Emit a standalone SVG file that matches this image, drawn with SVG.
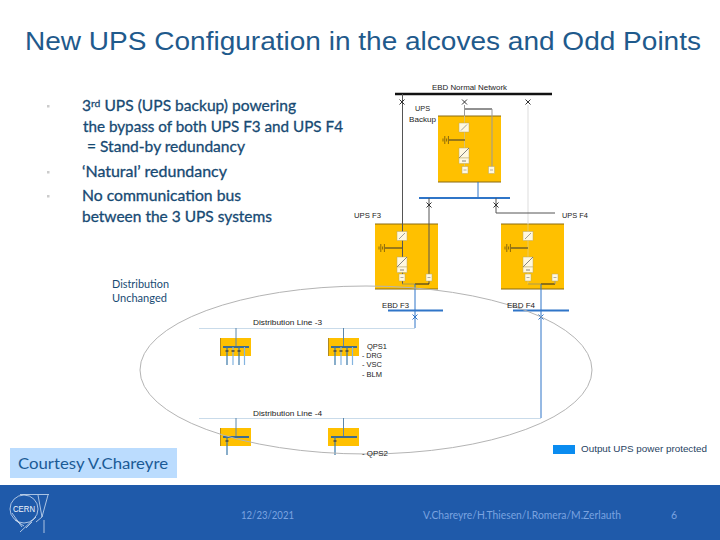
<svg xmlns="http://www.w3.org/2000/svg" width="720" height="540" viewBox="0 0 720 540">
<style>
.d{font-family:"Liberation Sans",Arial,sans-serif;font-size:8px;fill:#222}
.b{font-family:Lato,"Open Sans",sans-serif;font-size:15px;fill:#174a73;stroke:#174a73;stroke-width:.3}
.f{font-family:Lato,"Open Sans",sans-serif;font-size:10.5px;fill:#7aa3e0}
.y{fill:#ffc000}
.edge{stroke:#8a6a10;stroke-width:1;fill:none}
.w{fill:#fff8e0;stroke:#b9a76a;stroke-width:.5}
.s{fill:none;stroke-width:1}
.k{stroke:#222}
.gr{stroke:#999}
.bl{stroke:#2f75c8}
.blb{stroke:#2f75c8;stroke-width:2}
.pb{stroke:#c9dbea}
.x{stroke:#333;stroke-width:1;fill:none}
.st{stroke:#5a86ad;stroke-width:1;fill:none}
.bar{stroke:#3f6c8f;stroke-width:2;fill:none}
.l1{stroke:#3a78a8;stroke-width:1.2;fill:none}
.l2{stroke:#84b4e0;stroke-width:1.2;fill:none}
.logo{fill:none;stroke:#e8f0fb;stroke-width:.7}
</style>
<defs>
<path id="xm" d="M-2.5-2.5L2.5 2.5M2.5-2.5L-2.5 2.5"/>
<g id="sw"><rect class="w" x="-5" y="-4.5" width="10" height="9"/><path d="M-3 3L3-3" stroke="#888" stroke-width=".8"/></g>
<g id="sm"><rect class="w" x="-3" y="-3.5" width="6" height="7"/><path d="M-1.500 0L1.500 0" stroke="#999" stroke-width=".8"/></g>
<g id="inv"><rect class="w" x="-5" y="-5" width="10" height="10"/><path d="M-5 5L5-5" stroke="#666" stroke-width=".8"/><rect class="w" x="-5" y="5" width="10" height="5.500"/><path d="M-2 8L2 8" stroke="#666" stroke-width=".8"/></g>
<path id="bat" d="M0-1.500V1.500M1.800-4V4M3.600-1.500V1.500M5.400-4V4" stroke="#5a4510" stroke-width=".7" fill="none"/>
</defs>

<rect width="720" height="540" fill="#fff"/>
<text x="25" y="50" font-family="'Liberation Sans',Arial,sans-serif" font-size="26.500" fill="#1f5a8c" textLength="676" lengthAdjust="spacingAndGlyphs">New UPS Configuration in the alcoves and Odd Points</text>

<g id="bullets">
<rect x="47" y="105" width="2.500" height="2.500" fill="#ccc"/>
<rect x="47" y="171" width="2.500" height="2.500" fill="#ccc"/>
<rect x="47" y="195" width="2.500" height="2.500" fill="#ccc"/>
<text class="b" x="82" y="111" textLength="214" lengthAdjust="spacingAndGlyphs">3<tspan font-size="10" dy="-4.500">rd</tspan><tspan dy="4.500"> UPS (UPS backup) powering</tspan></text>
<text class="b" x="83" y="132" textLength="260" lengthAdjust="spacingAndGlyphs">the bypass of both UPS F3 and UPS F4</text>
<text class="b" x="87" y="152" textLength="158" lengthAdjust="spacingAndGlyphs">= Stand-by redundancy</text>
<text class="b" x="82" y="177" textLength="145" lengthAdjust="spacingAndGlyphs">‘Natural’ redundancy</text>
<text class="b" x="82" y="201" textLength="159" lengthAdjust="spacingAndGlyphs">No communication bus</text>
<text class="b" x="82" y="222" textLength="190" lengthAdjust="spacingAndGlyphs">between the 3 UPS systems</text>
</g>

<g id="note">
<text x="112" y="288" font-family="Lato,'Open Sans',sans-serif" font-size="11.500" fill="#174a73" textLength="57" lengthAdjust="spacingAndGlyphs">Distribution</text>
<text x="112" y="302" font-family="Lato,'Open Sans',sans-serif" font-size="11.500" fill="#174a73" textLength="55" lengthAdjust="spacingAndGlyphs">Unchanged</text>
</g>

<g id="ups-backup"><rect class="y" x="438" y="116" width="63" height="66"/><path class="edge" d="M438 116H501M438 182H501"/></g>
<g id="ups-f3"><rect class="y" x="375" y="224" width="63" height="65"/><path class="edge" d="M375 224H438M375 289H438"/></g>
<g id="ups-f4"><rect class="y" x="501" y="224" width="63" height="65"/><path class="edge" d="M501 224H564M501 289H564"/></g>
<g id="dist-3a"><rect class="y" x="220" y="338" width="31" height="18"/><path d="M220.500 338V356" stroke="#b08a20"/></g>
<g id="dist-3b"><rect class="y" x="328" y="338" width="31" height="18"/><path d="M328.500 338V356" stroke="#b08a20"/></g>
<g id="dist-4a"><rect class="y" x="220" y="428" width="31" height="18"/><path d="M220.500 428V446" stroke="#b08a20"/></g>
<g id="dist-4b"><rect class="y" x="328" y="428" width="31" height="18"/></g>

<g id="connectors">
<path d="M395 94H552" stroke="#111" stroke-width="2.500" fill="none"/>
<path class="s" d="M402.500 94V284" stroke="#555" stroke-width="1.500"/>
<path class="s gr" d="M464.500 105V116"/>
<path class="s" stroke="#d8c070" d="M464.500 116V166"/>
<path class="s k" d="M465 109H492"/>
<path class="s gr" d="M492 109V168"/>
<path class="s" stroke="#ddd" d="M528 105V224"/>
<path class="s" stroke="#e8c860" d="M528 224V284"/>
<path class="s bl" stroke-width="1.500" d="M478 182V198"/>
<path class="blb" fill="none" d="M419 198H510"/>
<path class="s" stroke="#555" stroke-width="1.200" d="M429 198V284"/>
<path class="s" stroke="#555" stroke-width="1.200" d="M496 198V213H555"/>
<path class="s" stroke="#333" d="M449 140H465M385 248H402M511 248H528"/>
<path class="s" stroke="#aa9a50" d="M402 284H415M528 284H541"/>
<path class="s k" d="M415 284H429M541 284H555"/>
<path class="s gr" d="M555 278V284"/>
<path class="s bl" d="M415 284V328M541 284V418"/>
<path class="blb" fill="none" d="M388 310.500H443M513 310.500H569"/>
<path class="s pb" d="M199 328.500H415M199 418.500H541"/>
<path class="st" d="M236 328V347M343.500 328V347M236 418V437M343.500 418V437"/>
<path class="bar" d="M223 347H249M331 347H357M223 437H249M331 437H357"/>
<path class="l1" d="M227 347V365M239 347V365M335 347V365M347 347V365M227 437V455M335 437V455"/>
<path class="l2" d="M233 347V365M244.500 347V365M341 347V365M352.500 347V365"/>
<path d="M225.500 351H228.500M231.500 351H234.500M237.500 351H240.500M333.500 351H336.500M339.500 351H342.500M345.500 351H348.500M225.500 441H228.500M333.500 441H336.500" stroke="#444" stroke-width="1.500"/>
<g class="x">
<use href="#xm" x="402" y="102"/><use href="#xm" x="464.500" y="102"/><use href="#xm" x="528" y="102"/>
<use href="#xm" x="429" y="205"/><use href="#xm" x="496" y="205"/>
</g>
<g stroke="#2f75c8" fill="none"><use href="#xm" x="415" y="317"/><use href="#xm" x="541" y="317"/></g>
</g>

<g id="ups-backup-parts">
<use href="#sw" x="464" y="127.500"/><use href="#inv" x="464" y="153"/><use href="#sm" x="465" y="170"/><use href="#sm" x="491.500" y="170"/><use href="#bat" x="443" y="140"/>
</g>
<g id="ups-f3-parts">
<use href="#sw" x="402" y="236"/><use href="#inv" x="402" y="262"/><use href="#sm" x="402" y="277.500"/><use href="#sm" x="429" y="277.500"/><use href="#bat" x="379" y="248"/>
</g>
<g id="ups-f4-parts">
<use href="#sw" x="528" y="236"/><use href="#inv" x="528" y="262"/><use href="#sm" x="528" y="277.500"/><use href="#sm" x="555" y="277.500"/><use href="#bat" x="505" y="248"/>
</g>

<ellipse id="boundary" cx="366" cy="370" rx="226" ry="84" fill="none" stroke="#b4b4b4" stroke-width="1"/>

<g id="diagram-labels">
<text class="d" x="432" y="90" textLength="75" lengthAdjust="spacingAndGlyphs">EBD Normal Network</text>
<text class="d" x="415" y="111" textLength="15" lengthAdjust="spacingAndGlyphs">UPS</text>
<text class="d" x="409" y="122" textLength="27" lengthAdjust="spacingAndGlyphs">Backup</text>
<text class="d" x="354" y="218" textLength="27" lengthAdjust="spacingAndGlyphs">UPS F3</text>
<text class="d" x="562" y="218" textLength="26" lengthAdjust="spacingAndGlyphs">UPS F4</text>
<text class="d" x="382" y="308" textLength="27" lengthAdjust="spacingAndGlyphs">EBD F3</text>
<text class="d" x="507" y="308" textLength="28" lengthAdjust="spacingAndGlyphs">EBD F4</text>
<text class="d" x="253" y="325" textLength="69" lengthAdjust="spacingAndGlyphs">Distribution Line -3</text>
<text class="d" x="253" y="416" textLength="69" lengthAdjust="spacingAndGlyphs">Distribution Line -4</text>
<text class="d" x="367" y="349" textLength="20" lengthAdjust="spacingAndGlyphs">QPS1</text>
<text class="d" x="362" y="358" textLength="20" lengthAdjust="spacingAndGlyphs">- DRG</text>
<text class="d" x="362" y="367" textLength="20" lengthAdjust="spacingAndGlyphs">- VSC</text>
<text class="d" x="362" y="377" textLength="20" lengthAdjust="spacingAndGlyphs">- BLM</text>
<text class="d" x="362" y="456" textLength="26" lengthAdjust="spacingAndGlyphs">- QPS2</text>
</g>

<g id="legend">
<rect x="553" y="445" width="22" height="9" fill="#0a8cf0"/>
<text x="581" y="452" font-family="'Liberation Sans',Arial,sans-serif" font-size="9" fill="#1f3f5f" textLength="126" lengthAdjust="spacingAndGlyphs">Output UPS power protected</text>
</g>

<g id="courtesy">
<rect x="10" y="448" width="167" height="30" fill="#bbdcfe"/>
<text x="18" y="469" font-family="Lato,'Open Sans',sans-serif" font-size="15.500" fill="#1a5a96" textLength="150" lengthAdjust="spacingAndGlyphs">Courtesy V.Chareyre</text>
</g>

<g id="footer">
<rect y="485" width="720" height="55" fill="#1f5aaa"/>
<text class="f" x="241" y="519" textLength="53" lengthAdjust="spacingAndGlyphs">12/23/2021</text>
<text class="f" x="423" y="519" textLength="198" lengthAdjust="spacingAndGlyphs">V.Chareyre/H.Thiesen/I.Romera/M.Zerlauth</text>
<text class="f" x="671" y="519">6</text>
</g>

<g id="cern-logo">
<circle class="logo" cx="24" cy="509" r="14"/>
<path class="logo" d="M20 494.500H49M48 495L42 517M38 495L42 517M42 517L36 522M44 520V533M12 513L22 527M15 520L24 526M36 517L20 532M32 522L26 528"/>
<text x="13" y="512" font-family="'Liberation Sans',Arial,sans-serif" font-size="9" fill="#f0f5fc" textLength="22" lengthAdjust="spacingAndGlyphs">CERN</text>
</g>
</svg>
